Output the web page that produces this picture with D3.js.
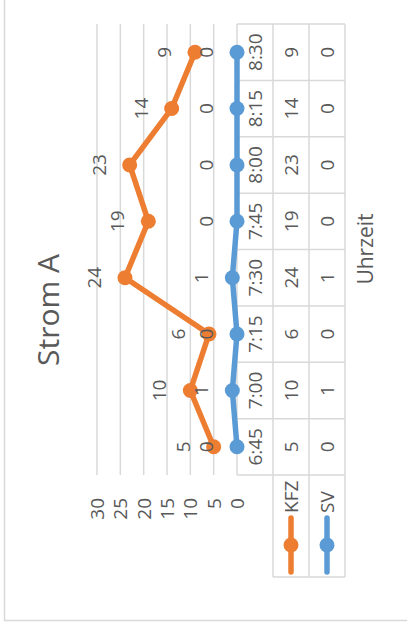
<!DOCTYPE html>
<html><head><meta charset="utf-8">
<script src="https://cdn.jsdelivr.net/npm/d3@7"></script>
<style>html,body{margin:0;padding:0;background:#fff;}svg{display:block;}text{font-family:"Open Sans",sans-serif;fill:#595959;}</style>
</head><body>
<svg id="c" width="407" height="629"></svg>
<script>
const categories = ["6:45","7:00","7:15","7:30","7:45","8:00","8:15","8:30"];
const kfz = [5,10,6,24,19,23,14,9];
const sv = [0,1,0,1,0,0,0,0];
const yTicks = [0,5,10,15,20,25,30];
const seriesNames = ["KFZ","SV"];
const colors = ["#ED7D31","#5B9BD5"];
const title = "Strom A";
const axisTitle = "Uhrzeit";

const W = 407, H = 629;
const svg = d3.select("#c");
// outer chart border
svg.append("rect").attr("x",4.5).attr("y",-10).attr("width",430).attr("height",630.5)
  .attr("fill","none").attr("stroke","#d9d9d9").attr("stroke-width",1.5);

// rotated group: local (u,v) -> screen (v, H-u)
const g = svg.append("g").attr("transform",`translate(0,${H}) rotate(-90)`);

const x = d3.scaleBand().domain(categories).range([154,605]);
const y = d3.scaleLinear().domain([0,30]).range([237,97]);
const grid = "#d9d9d9";

// gridlines
g.append("g").selectAll("line").data(yTicks).join("line")
  .attr("x1",154).attr("x2",605).attr("y1",d=>y(d)).attr("y2",d=>y(d))
  .attr("stroke",grid).attr("stroke-width",1.5);

// tick labels
g.append("g").selectAll("text").data(yTicks).join("text")
  .attr("x",131).attr("y",d=>y(d)).attr("text-anchor","end").attr("dominant-baseline","central")
  .attr("font-size",19).text(d=>d);

// data table
const rowH = 36;
const t0 = y(0), t1 = t0+rowH, t2 = t1+rowH, t3 = t2+rowH;
const tl = g.append("g").attr("stroke",grid).attr("stroke-width",1.5);
[t1,t2,t3].forEach(v=>tl.append("line").attr("x1",52).attr("x2",605).attr("y1",v).attr("y2",v));
const bounds = categories.map(c=>x(c)).concat([x.range()[1]]);
bounds.forEach(u=>tl.append("line").attr("x1",u).attr("x2",u).attr("y1",t0).attr("y2",t3));
tl.append("line").attr("x1",52).attr("x2",52).attr("y1",t1).attr("y2",t3);

const bw = x.bandwidth();
g.append("g").selectAll("text").data(categories).join("text")
  .attr("x",d=>x(d)+bw/2).attr("y",(t0+t1)/2).attr("text-anchor","middle").attr("dominant-baseline","central")
  .attr("font-size",19).text(d=>d);
[kfz,sv].forEach((s,i)=>{
  g.append("g").selectAll("text").data(s).join("text")
    .attr("x",(d,j)=>x(categories[j])+bw/2).attr("y",i===0?(t1+t2)/2:(t2+t3)/2)
    .attr("text-anchor","middle").attr("dominant-baseline","central")
    .attr("font-size",19).text(d=>d);
});

// legend keys
seriesNames.forEach((n,i)=>{
  const v = i===0?(t1+t2)/2:(t2+t3)/2;
  g.append("line").attr("x1",57).attr("x2",111).attr("y1",v).attr("y2",v)
    .attr("stroke",colors[i]).attr("stroke-width",5.5).attr("stroke-linecap","round");
  g.append("circle").attr("cx",84).attr("cy",v).attr("r",7.5).attr("fill",colors[i]);
  g.append("text").attr("x",116).attr("y",v).attr("dominant-baseline","central")
    .attr("font-size",19).text(n);
});

// lines
const line = d3.line().x((d,j)=>x(categories[j])+bw/2).y(d=>y(d));
[kfz,sv].forEach((s,i)=>{
  g.append("path").datum(s).attr("d",line).attr("fill","none")
    .attr("stroke",colors[i]).attr("stroke-width",5.5).attr("stroke-linejoin","round").attr("stroke-linecap","round");
  g.append("g").selectAll("circle").data(s).join("circle")
    .attr("cx",(d,j)=>x(categories[j])+bw/2).attr("cy",d=>y(d)).attr("r",7.5).attr("fill",colors[i]);
});
// data labels
[kfz,sv].forEach((s,i)=>{
  g.append("g").selectAll("text").data(s).join("text")
    .attr("x",(d,j)=>x(categories[j])+bw/2).attr("y",d=>y(d)-31)
    .attr("text-anchor","middle").attr("dominant-baseline","central")
    .attr("font-size",19).text(d=>d);
});

// titles
g.append("text").attr("x",H-310).attr("y",47).attr("text-anchor","middle").attr("dominant-baseline","central")
  .attr("font-size",30).text(title);
g.append("text").attr("x",H-249).attr("y",365).attr("text-anchor","middle").attr("dominant-baseline","central")
  .attr("font-size",21).text(axisTitle);
</script>
</body></html>
